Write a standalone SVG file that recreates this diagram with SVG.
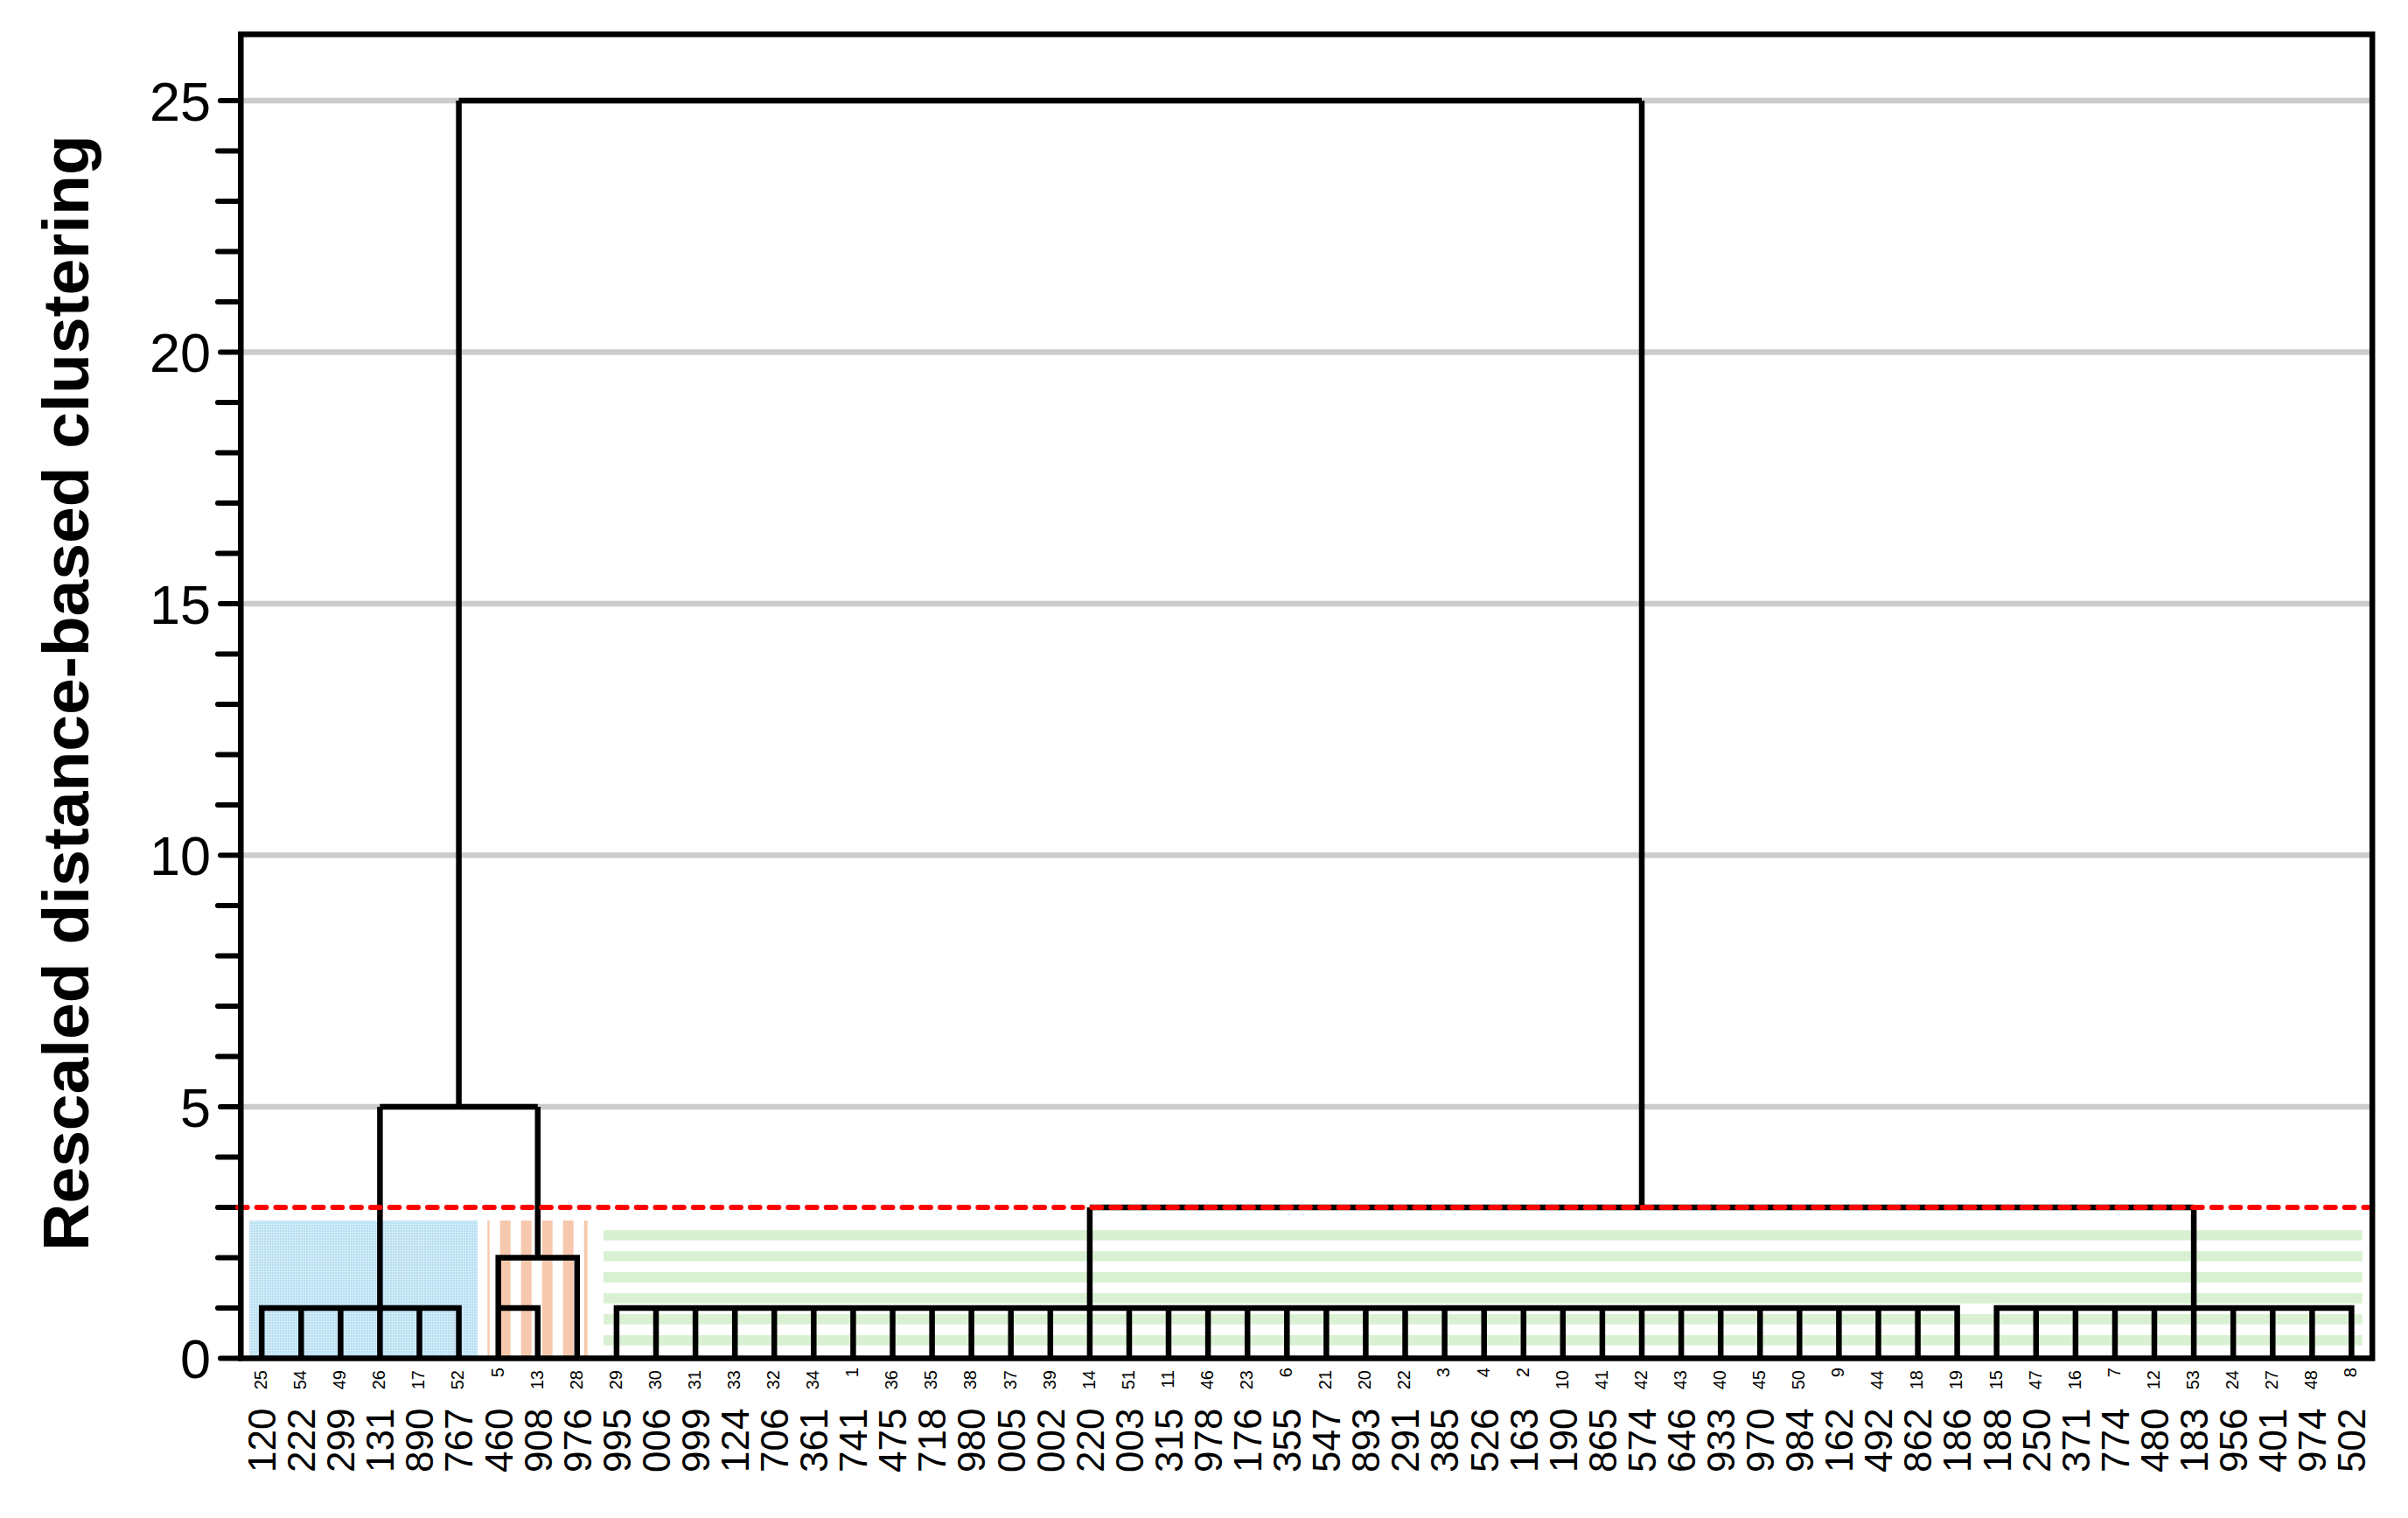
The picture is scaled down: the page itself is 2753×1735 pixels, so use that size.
<svg xmlns="http://www.w3.org/2000/svg" width="2753" height="1735" viewBox="0 0 2753 1735">
<defs>
<pattern id="bluedots" patternUnits="userSpaceOnUse" x="0" y="0" width="3" height="3">
<rect width="3" height="3" fill="#bfe3f4"/>
<rect x="1" y="1" width="1" height="1" fill="#ffffff"/>
</pattern>
<style>
.grid{stroke:#cccccc;stroke-width:6.5;fill:none}
.tick{stroke:#000;stroke-width:6;stroke-linecap:round;fill:none}
.ln{stroke:#000;stroke-width:6.5;fill:none;stroke-linejoin:miter;stroke-linecap:butt}
.cut{stroke:#ff0000;stroke-width:6;stroke-linecap:round;stroke-dasharray:10.7 11;fill:none}
.frame{stroke:#000;stroke-width:6.5;fill:none}
.org{fill:#f6c8ad}
.grn{fill:#d9f1d2}
.ytl{font-family:"Liberation Sans",Arial,sans-serif;font-size:63px;fill:#000;text-anchor:end}
.big{font-family:"Liberation Sans",Arial,sans-serif;font-size:44px;fill:#000;text-anchor:start}
.sml{font-family:"Liberation Sans",Arial,sans-serif;font-size:20px;fill:#000;text-anchor:end}
.ttl{font-family:"Liberation Sans",Arial,sans-serif;font-size:75px;font-weight:bold;fill:#000;text-anchor:middle}
</style>
</defs>
<rect width="2753" height="1735" fill="#ffffff"/>

<g id="cluster-backgrounds">
<rect x="285" y="1395" width="261" height="155" fill="url(#bluedots)"/>
<g id="orange-stripes">
<rect class="org" x="557.3" y="1395" width="2.4" height="155"/>
<rect class="org" x="571.7" y="1395" width="12" height="155"/>
<rect class="org" x="595.7" y="1395" width="12" height="155"/>
<rect class="org" x="619.7" y="1395" width="12" height="155"/>
<rect class="org" x="643.7" y="1395" width="12" height="155"/>
<rect class="org" x="667.7" y="1395" width="4" height="155"/>
</g>
<g id="green-stripes">
<rect class="grn" x="690" y="1406" width="2010.7" height="11.7"/>
<rect class="grn" x="690" y="1430" width="2010.7" height="11.7"/>
<rect class="grn" x="690" y="1454" width="2010.7" height="11.7"/>
<rect class="grn" x="690" y="1478" width="2010.7" height="11.7"/>
<rect class="grn" x="690" y="1502" width="2010.7" height="11.7"/>
<rect class="grn" x="690" y="1526" width="2010.7" height="11.7"/>
</g>
</g>

<g id="gridlines">
<line class="grid" x1="275" y1="115" x2="2712" y2="115"/>
<line class="grid" x1="275" y1="402.5" x2="2712" y2="402.5"/>
<line class="grid" x1="275" y1="690" x2="2712" y2="690"/>
<line class="grid" x1="275" y1="977.5" x2="2712" y2="977.5"/>
<line class="grid" x1="275" y1="1265" x2="2712" y2="1265"/>
</g>

<g id="y-axis">
<g id="ticks">
<line class="tick" x1="252" y1="1552.5" x2="275" y2="1552.5"/>
<line class="tick" x1="249" y1="1495" x2="275" y2="1495"/>
<line class="tick" x1="249" y1="1437.5" x2="275" y2="1437.5"/>
<line class="tick" x1="249" y1="1380" x2="275" y2="1380"/>
<line class="tick" x1="249" y1="1322.5" x2="275" y2="1322.5"/>
<line class="tick" x1="252" y1="1265" x2="275" y2="1265"/>
<line class="tick" x1="249" y1="1207.5" x2="275" y2="1207.5"/>
<line class="tick" x1="249" y1="1150" x2="275" y2="1150"/>
<line class="tick" x1="249" y1="1092.5" x2="275" y2="1092.5"/>
<line class="tick" x1="249" y1="1035" x2="275" y2="1035"/>
<line class="tick" x1="252" y1="977.5" x2="275" y2="977.5"/>
<line class="tick" x1="249" y1="920" x2="275" y2="920"/>
<line class="tick" x1="249" y1="862.5" x2="275" y2="862.5"/>
<line class="tick" x1="249" y1="805" x2="275" y2="805"/>
<line class="tick" x1="249" y1="747.5" x2="275" y2="747.5"/>
<line class="tick" x1="252" y1="690" x2="275" y2="690"/>
<line class="tick" x1="249" y1="632.5" x2="275" y2="632.5"/>
<line class="tick" x1="249" y1="575" x2="275" y2="575"/>
<line class="tick" x1="249" y1="517.5" x2="275" y2="517.5"/>
<line class="tick" x1="249" y1="460" x2="275" y2="460"/>
<line class="tick" x1="252" y1="402.5" x2="275" y2="402.5"/>
<line class="tick" x1="249" y1="345" x2="275" y2="345"/>
<line class="tick" x1="249" y1="287.5" x2="275" y2="287.5"/>
<line class="tick" x1="249" y1="230" x2="275" y2="230"/>
<line class="tick" x1="249" y1="172.5" x2="275" y2="172.5"/>
<line class="tick" x1="252" y1="115" x2="275" y2="115"/>
</g>
<text class="ytl" x="241" y="1575">0</text>
<text class="ytl" x="241" y="1287.5">5</text>
<text class="ytl" x="241" y="1000">10</text>
<text class="ytl" x="241" y="712.5">15</text>
<text class="ytl" x="241" y="425">20</text>
<text class="ytl" x="241" y="137.5">25</text>
<text class="ttl" transform="translate(101,792) rotate(-90)">Rescaled distance-based clustering</text>
</g>

<g id="connectors">
<g id="blue-cluster">
<path class="ln" d="M299.2 1552.5V1495H524.6V1552.5"/>
<path class="ln" d="M344.3 1552.5V1495M389.4 1552.5V1495M434.4 1552.5V1495M479.5 1552.5V1495"/>
<path class="ln" d="M434.4 1495V1265"/>
</g>
<g id="orange-cluster">
<path class="ln" d="M569.7 1552.5V1437.5H659.8V1552.5"/>
<path class="ln" d="M569.7 1495H614.8V1552.5"/>
<path class="ln" d="M614.8 1437.5V1265"/>
</g>
<path id="merge-5" class="ln" d="M434.4 1265H614.8M524.6 1265V115"/>
<g id="green-cluster-a">
<path class="ln" d="M704.9 1552.5V1495H2237.6V1552.5"/>
<path class="ln" d="M750 1552.5V1495M795.1 1552.5V1495M840.2 1552.5V1495M885.2 1552.5V1495M930.3 1552.5V1495M975.4 1552.5V1495M1020.5 1552.5V1495M1065.6 1552.5V1495M1110.6 1552.5V1495M1155.7 1552.5V1495M1200.8 1552.5V1495M1245.9 1552.5V1495M1291 1552.5V1495M1336 1552.5V1495M1381.1 1552.5V1495M1426.2 1552.5V1495M1471.3 1552.5V1495M1516.4 1552.5V1495M1561.4 1552.5V1495M1606.5 1552.5V1495M1651.6 1552.5V1495M1696.7 1552.5V1495M1741.8 1552.5V1495M1786.8 1552.5V1495M1831.9 1552.5V1495M1877 1552.5V1495M1922.1 1552.5V1495M1967.2 1552.5V1495M2012.2 1552.5V1495M2057.3 1552.5V1495M2102.4 1552.5V1495M2147.5 1552.5V1495M2192.6 1552.5V1495"/>
<path class="ln" d="M1245.9 1495V1380"/>
</g>
<g id="green-cluster-b">
<path class="ln" d="M2282.7 1552.5V1495H2688.4V1552.5"/>
<path class="ln" d="M2327.8 1552.5V1495M2372.9 1552.5V1495M2418 1552.5V1495M2463 1552.5V1495M2508.1 1552.5V1495M2553.2 1552.5V1495M2598.3 1552.5V1495M2643.4 1552.5V1495"/>
<path class="ln" d="M2508.1 1495V1380"/>
</g>
<path id="merge-3" class="ln" d="M1245.9 1380H2508.1M1877 1380V115"/>
<path id="root" class="ln" d="M524.6 115H1877"/>
</g>

<line id="cut-line" class="cut" x1="272" y1="1380" x2="2707" y2="1380"/>

<rect id="frame" class="frame" x="275.3" y="39.2" width="2436.9" height="1513.3"/>

<g id="leaves">
<g id="leaf-120"><text class="big" transform="translate(315,1683) rotate(-90)">120</text><text class="sml" transform="translate(305,1566) rotate(-90)">25</text></g>
<g id="leaf-222"><text class="big" transform="translate(360.1,1683) rotate(-90)">222</text><text class="sml" transform="translate(350.1,1566) rotate(-90)">54</text></g>
<g id="leaf-299"><text class="big" transform="translate(405.2,1683) rotate(-90)">299</text><text class="sml" transform="translate(395.2,1566) rotate(-90)">49</text></g>
<g id="leaf-131"><text class="big" transform="translate(450.2,1683) rotate(-90)">131</text><text class="sml" transform="translate(440.2,1566) rotate(-90)">26</text></g>
<g id="leaf-890"><text class="big" transform="translate(495.3,1683) rotate(-90)">890</text><text class="sml" transform="translate(485.3,1566) rotate(-90)">17</text></g>
<g id="leaf-767"><text class="big" transform="translate(540.4,1683) rotate(-90)">767</text><text class="sml" transform="translate(530.4,1566) rotate(-90)">52</text></g>
<g id="leaf-460"><text class="big" transform="translate(585.5,1683) rotate(-90)">460</text><text class="sml" transform="translate(575.5,1563) rotate(-90)">5</text></g>
<g id="leaf-908"><text class="big" transform="translate(630.6,1683) rotate(-90)">908</text><text class="sml" transform="translate(620.6,1566) rotate(-90)">13</text></g>
<g id="leaf-976"><text class="big" transform="translate(675.6,1683) rotate(-90)">976</text><text class="sml" transform="translate(665.6,1566) rotate(-90)">28</text></g>
<g id="leaf-995"><text class="big" transform="translate(720.7,1683) rotate(-90)">995</text><text class="sml" transform="translate(710.7,1566) rotate(-90)">29</text></g>
<g id="leaf-006"><text class="big" transform="translate(765.8,1683) rotate(-90)">006</text><text class="sml" transform="translate(755.8,1566) rotate(-90)">30</text></g>
<g id="leaf-999"><text class="big" transform="translate(810.9,1683) rotate(-90)">999</text><text class="sml" transform="translate(800.9,1566) rotate(-90)">31</text></g>
<g id="leaf-124"><text class="big" transform="translate(856,1683) rotate(-90)">124</text><text class="sml" transform="translate(846,1566) rotate(-90)">33</text></g>
<g id="leaf-706"><text class="big" transform="translate(901,1683) rotate(-90)">706</text><text class="sml" transform="translate(891,1566) rotate(-90)">32</text></g>
<g id="leaf-361"><text class="big" transform="translate(946.1,1683) rotate(-90)">361</text><text class="sml" transform="translate(936.1,1566) rotate(-90)">34</text></g>
<g id="leaf-741"><text class="big" transform="translate(991.2,1683) rotate(-90)">741</text><text class="sml" transform="translate(981.2,1563) rotate(-90)">1</text></g>
<g id="leaf-475"><text class="big" transform="translate(1036.3,1683) rotate(-90)">475</text><text class="sml" transform="translate(1026.3,1566) rotate(-90)">36</text></g>
<g id="leaf-718"><text class="big" transform="translate(1081.4,1683) rotate(-90)">718</text><text class="sml" transform="translate(1071.4,1566) rotate(-90)">35</text></g>
<g id="leaf-980"><text class="big" transform="translate(1126.4,1683) rotate(-90)">980</text><text class="sml" transform="translate(1116.4,1566) rotate(-90)">38</text></g>
<g id="leaf-005"><text class="big" transform="translate(1171.5,1683) rotate(-90)">005</text><text class="sml" transform="translate(1161.5,1566) rotate(-90)">37</text></g>
<g id="leaf-002"><text class="big" transform="translate(1216.6,1683) rotate(-90)">002</text><text class="sml" transform="translate(1206.6,1566) rotate(-90)">39</text></g>
<g id="leaf-220"><text class="big" transform="translate(1261.7,1683) rotate(-90)">220</text><text class="sml" transform="translate(1251.7,1566) rotate(-90)">14</text></g>
<g id="leaf-003"><text class="big" transform="translate(1306.8,1683) rotate(-90)">003</text><text class="sml" transform="translate(1296.8,1566) rotate(-90)">51</text></g>
<g id="leaf-315"><text class="big" transform="translate(1351.8,1683) rotate(-90)">315</text><text class="sml" transform="translate(1341.8,1566) rotate(-90)">11</text></g>
<g id="leaf-978"><text class="big" transform="translate(1396.9,1683) rotate(-90)">978</text><text class="sml" transform="translate(1386.9,1566) rotate(-90)">46</text></g>
<g id="leaf-176"><text class="big" transform="translate(1442,1683) rotate(-90)">176</text><text class="sml" transform="translate(1432,1566) rotate(-90)">23</text></g>
<g id="leaf-355"><text class="big" transform="translate(1487.1,1683) rotate(-90)">355</text><text class="sml" transform="translate(1477.1,1563) rotate(-90)">6</text></g>
<g id="leaf-547"><text class="big" transform="translate(1532.2,1683) rotate(-90)">547</text><text class="sml" transform="translate(1522.2,1566) rotate(-90)">21</text></g>
<g id="leaf-893"><text class="big" transform="translate(1577.2,1683) rotate(-90)">893</text><text class="sml" transform="translate(1567.2,1566) rotate(-90)">20</text></g>
<g id="leaf-291"><text class="big" transform="translate(1622.3,1683) rotate(-90)">291</text><text class="sml" transform="translate(1612.3,1566) rotate(-90)">22</text></g>
<g id="leaf-385"><text class="big" transform="translate(1667.4,1683) rotate(-90)">385</text><text class="sml" transform="translate(1657.4,1563) rotate(-90)">3</text></g>
<g id="leaf-526"><text class="big" transform="translate(1712.5,1683) rotate(-90)">526</text><text class="sml" transform="translate(1702.5,1563) rotate(-90)">4</text></g>
<g id="leaf-163"><text class="big" transform="translate(1757.6,1683) rotate(-90)">163</text><text class="sml" transform="translate(1747.6,1563) rotate(-90)">2</text></g>
<g id="leaf-190"><text class="big" transform="translate(1802.6,1683) rotate(-90)">190</text><text class="sml" transform="translate(1792.6,1566) rotate(-90)">10</text></g>
<g id="leaf-865"><text class="big" transform="translate(1847.7,1683) rotate(-90)">865</text><text class="sml" transform="translate(1837.7,1566) rotate(-90)">41</text></g>
<g id="leaf-574"><text class="big" transform="translate(1892.8,1683) rotate(-90)">574</text><text class="sml" transform="translate(1882.8,1566) rotate(-90)">42</text></g>
<g id="leaf-646"><text class="big" transform="translate(1937.9,1683) rotate(-90)">646</text><text class="sml" transform="translate(1927.9,1566) rotate(-90)">43</text></g>
<g id="leaf-933"><text class="big" transform="translate(1983,1683) rotate(-90)">933</text><text class="sml" transform="translate(1973,1566) rotate(-90)">40</text></g>
<g id="leaf-970"><text class="big" transform="translate(2028,1683) rotate(-90)">970</text><text class="sml" transform="translate(2018,1566) rotate(-90)">45</text></g>
<g id="leaf-984"><text class="big" transform="translate(2073.1,1683) rotate(-90)">984</text><text class="sml" transform="translate(2063.1,1566) rotate(-90)">50</text></g>
<g id="leaf-162"><text class="big" transform="translate(2118.2,1683) rotate(-90)">162</text><text class="sml" transform="translate(2108.2,1563) rotate(-90)">9</text></g>
<g id="leaf-492"><text class="big" transform="translate(2163.3,1683) rotate(-90)">492</text><text class="sml" transform="translate(2153.3,1566) rotate(-90)">44</text></g>
<g id="leaf-862"><text class="big" transform="translate(2208.4,1683) rotate(-90)">862</text><text class="sml" transform="translate(2198.4,1566) rotate(-90)">18</text></g>
<g id="leaf-186"><text class="big" transform="translate(2253.4,1683) rotate(-90)">186</text><text class="sml" transform="translate(2243.4,1566) rotate(-90)">19</text></g>
<g id="leaf-188"><text class="big" transform="translate(2298.5,1683) rotate(-90)">188</text><text class="sml" transform="translate(2288.5,1566) rotate(-90)">15</text></g>
<g id="leaf-250"><text class="big" transform="translate(2343.6,1683) rotate(-90)">250</text><text class="sml" transform="translate(2333.6,1566) rotate(-90)">47</text></g>
<g id="leaf-371"><text class="big" transform="translate(2388.7,1683) rotate(-90)">371</text><text class="sml" transform="translate(2378.7,1566) rotate(-90)">16</text></g>
<g id="leaf-774"><text class="big" transform="translate(2433.8,1683) rotate(-90)">774</text><text class="sml" transform="translate(2423.8,1563) rotate(-90)">7</text></g>
<g id="leaf-480"><text class="big" transform="translate(2478.8,1683) rotate(-90)">480</text><text class="sml" transform="translate(2468.8,1566) rotate(-90)">12</text></g>
<g id="leaf-183"><text class="big" transform="translate(2523.9,1683) rotate(-90)">183</text><text class="sml" transform="translate(2513.9,1566) rotate(-90)">53</text></g>
<g id="leaf-956"><text class="big" transform="translate(2569,1683) rotate(-90)">956</text><text class="sml" transform="translate(2559,1566) rotate(-90)">24</text></g>
<g id="leaf-401"><text class="big" transform="translate(2614.1,1683) rotate(-90)">401</text><text class="sml" transform="translate(2604.1,1566) rotate(-90)">27</text></g>
<g id="leaf-974"><text class="big" transform="translate(2659.2,1683) rotate(-90)">974</text><text class="sml" transform="translate(2649.2,1566) rotate(-90)">48</text></g>
<g id="leaf-502"><text class="big" transform="translate(2704.2,1683) rotate(-90)">502</text><text class="sml" transform="translate(2694.2,1563) rotate(-90)">8</text></g>
</g>
</svg>
